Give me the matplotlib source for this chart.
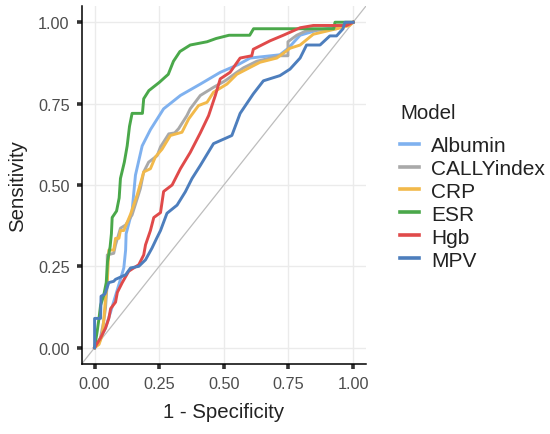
import matplotlib
matplotlib.use("Agg")
import matplotlib.pyplot as plt
import numpy as np

plt.rcParams['font.family'] = ['Liberation Sans', 'DejaVu Sans']

# ROC points (1 - specificity, sensitivity)
albumin_fpr = [0, 0.004, 0.023, 0.042, 0.062, 0.081, 0.1, 0.113, 0.12, 0.122, 0.145, 0.158, 0.184,
               0.216, 0.267, 0.332, 0.409, 0.486, 0.556, 0.602, 0.717, 0.749, 0.795, 0.859, 0.975, 1]
albumin_tpr = [0, 0.005, 0.03, 0.06, 0.11, 0.16, 0.21, 0.245, 0.3, 0.35, 0.42, 0.53, 0.62,
               0.67, 0.734, 0.775, 0.81, 0.846, 0.87, 0.89, 0.9, 0.92, 0.96, 0.975, 0.99, 1]

cally_fpr = [0, 0.02, 0.035, 0.042, 0.049, 0.049, 0.074, 0.081, 0.1, 0.12, 0.145, 0.177, 0.19,
             0.209, 0.242, 0.255, 0.287, 0.31, 0.325, 0.357, 0.37, 0.409, 0.46, 0.505, 0.55,
             0.576, 0.627, 0.717, 0.748, 0.748, 0.782, 0.82, 0.936, 1]
cally_tpr = [0, 0.02, 0.08, 0.12, 0.2, 0.285, 0.29, 0.316, 0.367, 0.377, 0.408, 0.489, 0.54,
             0.57, 0.59, 0.617, 0.657, 0.66, 0.673, 0.713, 0.734, 0.775, 0.8, 0.82, 0.846,
             0.86, 0.88, 0.897, 0.897, 0.94, 0.96, 0.974, 0.98, 1]

crp_fpr = [0, 0.017, 0.03, 0.036, 0.042, 0.049, 0.055, 0.074, 0.081, 0.094, 0.1, 0.113, 0.139,
           0.165, 0.19, 0.216, 0.235, 0.261, 0.293, 0.338, 0.364, 0.402, 0.435, 0.46, 0.512,
           0.55, 0.64, 0.705, 0.756, 0.795, 0.846, 0.936, 0.987, 1]
crp_tpr = [0, 0.01, 0.04, 0.09, 0.15, 0.2, 0.3, 0.3, 0.336, 0.336, 0.36, 0.36, 0.41,
           0.47, 0.54, 0.55, 0.586, 0.61, 0.652, 0.662, 0.703, 0.744, 0.754, 0.785, 0.81,
           0.84, 0.877, 0.89, 0.92, 0.93, 0.963, 0.98, 0.99, 1]

esr_fpr = [0, 0.01, 0.017, 0.023, 0.035, 0.045, 0.05, 0.06, 0.065, 0.068, 0.085, 0.095, 0.1,
           0.115, 0.126, 0.135, 0.145, 0.185, 0.19, 0.21, 0.25, 0.285, 0.305, 0.33, 0.37,
           0.435, 0.47, 0.52, 0.6, 0.615, 0.925, 0.93, 1]
esr_tpr = [0, 0.05, 0.09, 0.13, 0.16, 0.2, 0.265, 0.31, 0.35, 0.4, 0.42, 0.46, 0.52,
           0.57, 0.62, 0.68, 0.72, 0.72, 0.765, 0.79, 0.815, 0.84, 0.88, 0.91, 0.93,
           0.94, 0.95, 0.96, 0.96, 0.98, 0.98, 1.0, 1]

hgb_fpr = [0, 0.023, 0.042, 0.055, 0.062, 0.081, 0.088, 0.107, 0.132, 0.171, 0.19, 0.197, 0.216,
           0.229, 0.255, 0.267, 0.3, 0.332, 0.37, 0.409, 0.441, 0.467, 0.486, 0.524, 0.563,
           0.608, 0.614, 0.679, 0.73, 0.795, 0.846, 0.975, 1]
hgb_tpr = [0, 0.03, 0.06, 0.09, 0.12, 0.14, 0.17, 0.2, 0.235, 0.255, 0.285, 0.316, 0.36,
           0.4, 0.415, 0.48, 0.5, 0.55, 0.6, 0.66, 0.713, 0.775, 0.826, 0.846, 0.89,
           0.897, 0.917, 0.943, 0.96, 0.983, 0.99, 0.99, 1]

mpv_fpr = [0, 0, 0.023, 0.025, 0.04, 0.055, 0.074, 0.081, 0.12, 0.139, 0.171, 0.197, 0.222,
           0.24, 0.255, 0.28, 0.319, 0.351, 0.377, 0.409, 0.46, 0.531, 0.563, 0.614, 0.653,
           0.717, 0.756, 0.795, 0.82, 0.872, 0.91, 0.936, 0.961, 0.968, 1]
mpv_tpr = [0, 0.09, 0.09, 0.158, 0.165, 0.2, 0.204, 0.21, 0.224, 0.245, 0.25, 0.27, 0.306,
           0.336, 0.36, 0.413, 0.438, 0.479, 0.52, 0.56, 0.627, 0.652, 0.72, 0.78, 0.82,
           0.836, 0.856, 0.89, 0.93, 0.93, 0.958, 0.958, 0.98, 1.0, 1]

models = ["Albumin", "CALLYindex", "CRP", "ESR", "Hgb", "MPV"]
colors = ["#7fb1ef", "#a9a9a9", "#f2b94a", "#4aa84a", "#e04a4a", "#4d7ebd"]
curves = [(albumin_fpr, albumin_tpr), (cally_fpr, cally_tpr), (crp_fpr, crp_tpr),
          (esr_fpr, esr_tpr), (hgb_fpr, hgb_tpr), (mpv_fpr, mpv_tpr)]
ticks = [0.0, 0.25, 0.5, 0.75, 1.0]
tick_labels = ["0.00", "0.25", "0.50", "0.75", "1.00"]

fig = plt.figure(figsize=(5.5, 4.35), dpi=100)
ax = fig.add_axes([0.1485, 0.161, 0.517, 0.823])

ax.axline((0, 0), slope=1, color="#bdbdbd", lw=0.9, zorder=1)
for name, col, (fx, ty) in zip(models, colors, curves):
    ax.plot(fx, ty, color=col, lw=2.1, label=name, zorder=2)

ax.set_xlim(-0.05, 1.05)
ax.set_ylim(-0.05, 1.05)
ax.set_xticks(ticks)
ax.set_xticklabels(tick_labels)
ax.set_yticks(ticks)
ax.set_yticklabels(tick_labels)
ax.grid(True, color="#ebebeb", lw=1.0, zorder=0)
ax.set_axisbelow(True)

for s in ["top", "right"]:
    ax.spines[s].set_visible(False)
for s in ["left", "bottom"]:
    ax.spines[s].set_color("black")
    ax.spines[s].set_linewidth(1.1)

ax.tick_params(axis="both", length=3.6, width=2.6, color="#333333",
               labelsize=11.7, labelcolor="#4d4d4d", pad=5)

ax.set_xlabel("1 - Specificity", fontsize=14.7, color="#222222", labelpad=8)
ax.set_ylabel("Sensitivity", fontsize=14.7, color="#222222", labelpad=8)

leg = ax.legend(title="Model", loc="upper left", bbox_to_anchor=(0.728, 0.761),
                bbox_transform=fig.transFigure, frameon=False, fontsize=15,
                title_fontsize=14.8, handlelength=0.88, handletextpad=0.6,
                labelspacing=0.19, borderpad=0, borderaxespad=0)
leg._legend_box.align = "left"
leg._legend_box.sep = 10  # gap between title and keys, in points
for line in leg.get_lines():
    line.set_linewidth(2.6)
for t in leg.get_texts():
    t.set_color("#222222")
leg.get_title().set_color("#222222")

fig.savefig("out.png", dpi=100)
